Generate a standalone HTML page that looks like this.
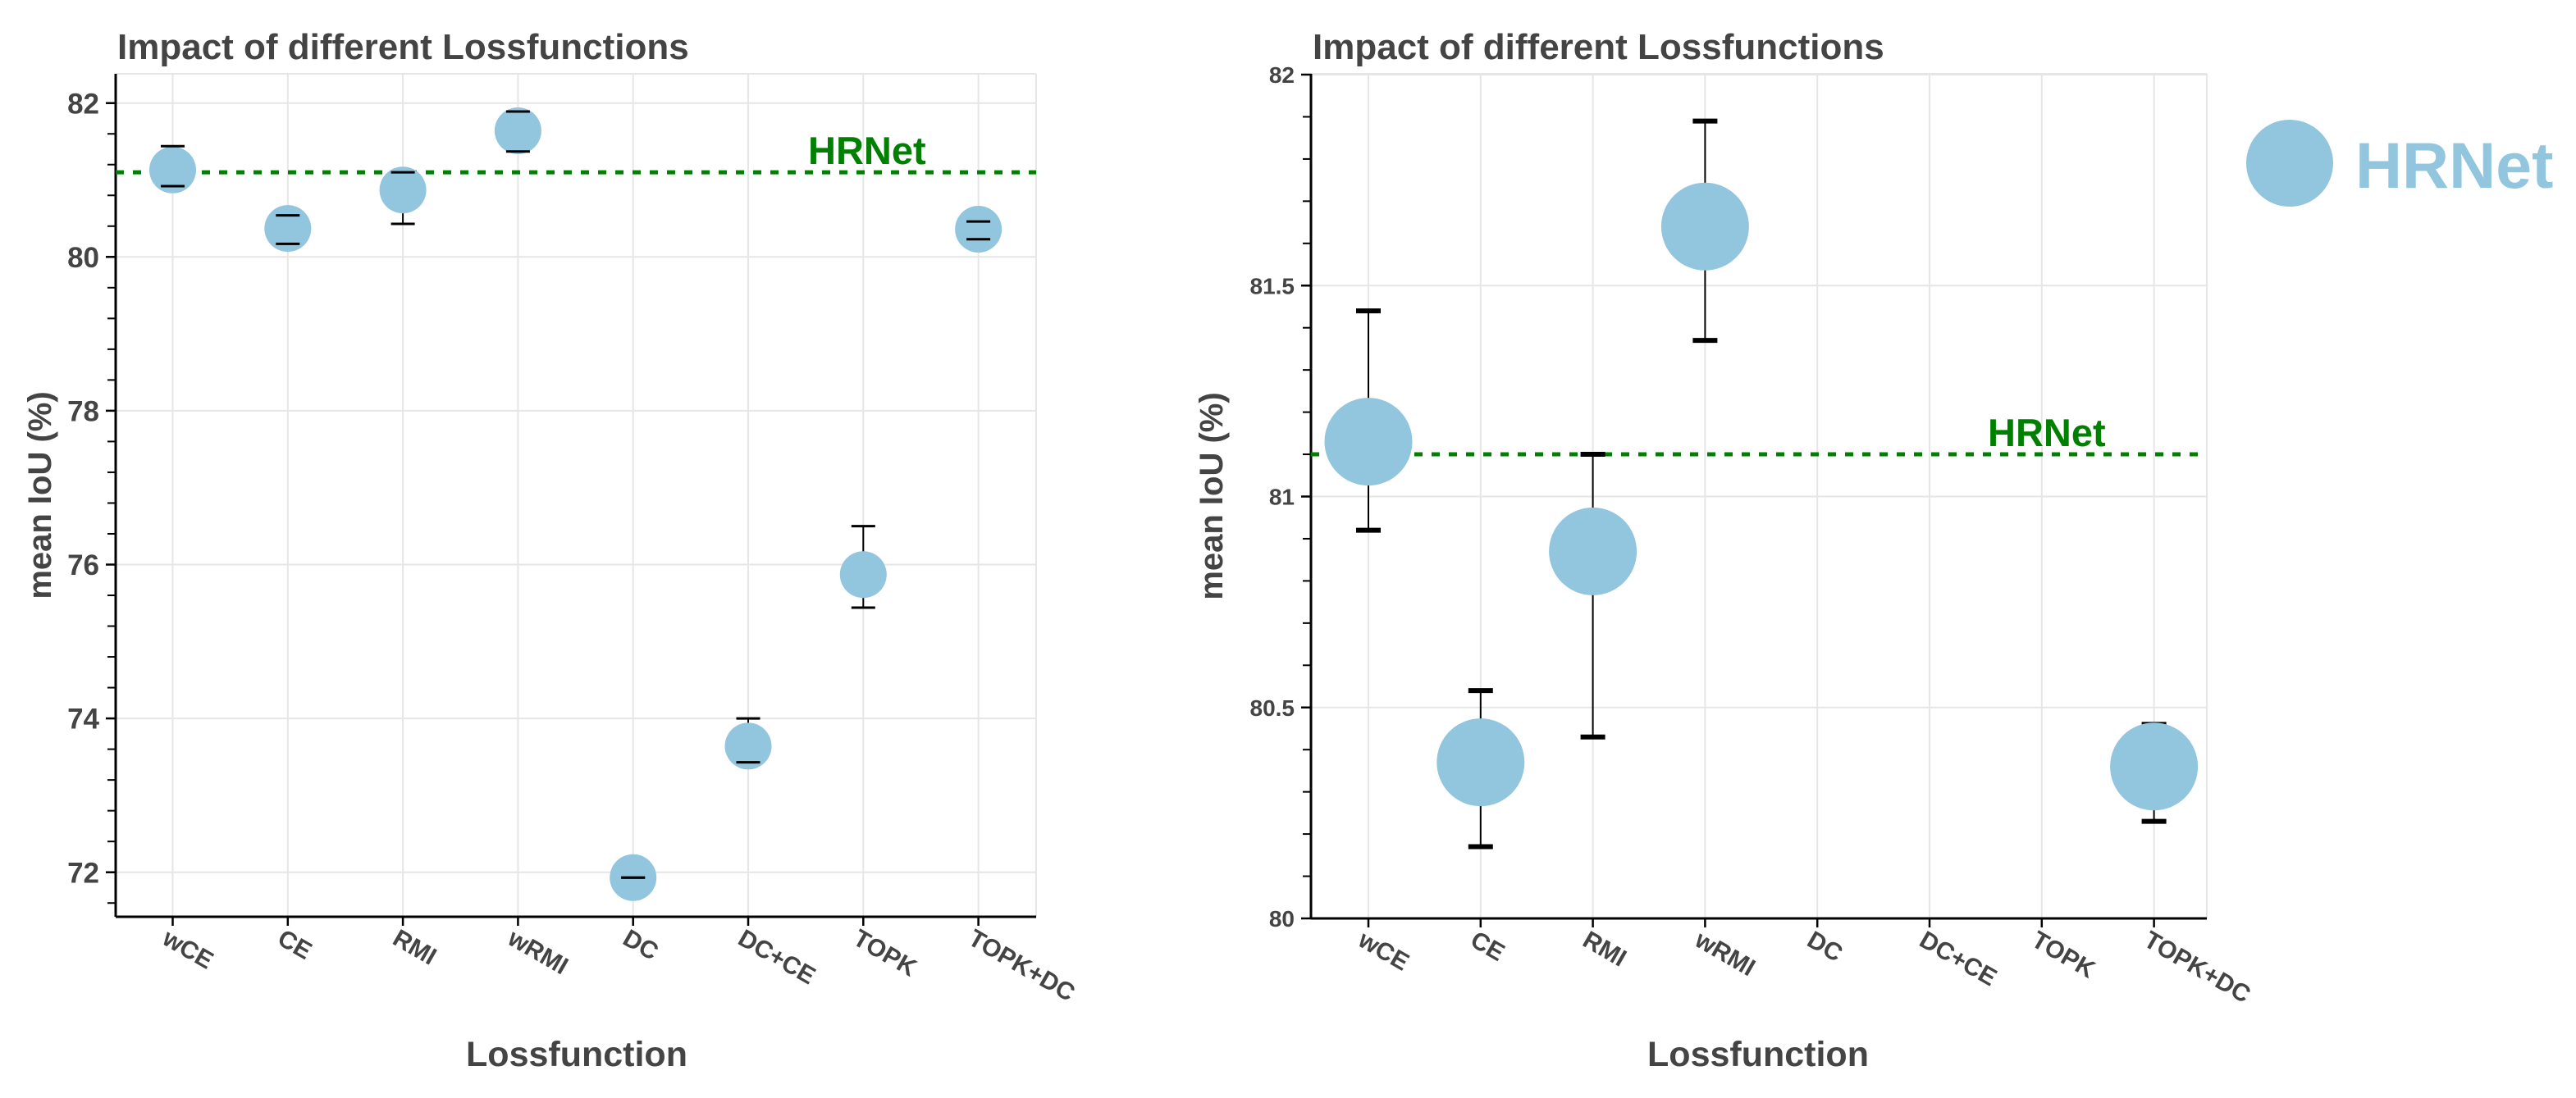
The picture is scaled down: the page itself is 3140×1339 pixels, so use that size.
<!DOCTYPE html>
<html><head><meta charset="utf-8"><style>
html,body{margin:0;padding:0;background:#fff;}
svg text{font-family:"Liberation Sans",sans-serif;font-weight:bold;}
</style></head><body>
<svg id="s" width="3140" height="1334" viewBox="0 0 3140 1334" xmlns="http://www.w3.org/2000/svg"></svg>
<script>
const categories=["wCE","CE","RMI","wRMI","DC","DC+CE","TOPK","TOPK+DC"];
const meanLeft=[81.13,80.37,80.87,81.64,71.93,73.64,75.87,80.36];
const lowLeft=[80.92,80.17,80.43,81.37,71.93,73.43,75.44,80.23];
const highLeft=[81.44,80.54,81.10,81.89,71.93,74.00,76.50,80.46];
const meanRight=[81.13,80.37,80.87,81.64,null,null,null,80.36];
const lowRight=[80.92,80.17,80.43,81.37,null,null,null,80.23];
const highRight=[81.44,80.54,81.10,81.89,null,null,null,80.46];
const baseline=81.1;
const leftTicks=[72,74,76,78,80,82];
const rightTicks=["80","80.5","81","81.5","82"];
const NS="http://www.w3.org/2000/svg";
const svg=document.getElementById('s');
function el(tag,attrs,parent,txt){const e=document.createElementNS(NS,tag);for(const k in attrs)e.setAttribute(k,attrs[k]);if(txt!==undefined)e.textContent=txt;(parent||svg).appendChild(e);return e;}

function chart(o){
  const g=el('g',{});
  
  
  const x=i=>o.x0+i*o.dx;
  const y=v=>o.yRef-(v-o.vRef)*o.py;
  categories.forEach((c,i)=>{const l=el('line',{x1:x(i),x2:x(i),y1:o.top,y2:o.bottom,stroke:'#e6e6e6','stroke-width':2},g);
    });
  o.ticks.forEach(t=>{const v=parseFloat(t);const l=el('line',{x1:o.left,x2:o.right,y1:y(v),y2:y(v),stroke:'#e6e6e6','stroke-width':2},g);
    });
  const tl=el('line',{x1:o.left,x2:o.right,y1:o.top,y2:o.top,stroke:'#e6e6e6','stroke-width':2},g);
  
  const rl=el('line',{x1:o.right,x2:o.right,y1:o.top,y2:o.bottom,stroke:'#e6e6e6','stroke-width':2},g);
  
  for(let v=o.ticksMin;v<=o.ticksMax+1e-6;v+=o.minor){const yy=y(v);if(yy<o.top-1||yy>o.bottom+1)continue;
    const m=el('line',{x1:o.left-10,x2:o.left,y1:yy,y2:yy,stroke:'#000','stroke-width':2},g);
    }
  o.ticks.forEach(t=>{const v=parseFloat(t);
    const m=el('line',{x1:o.left-12,x2:o.left,y1:y(v),y2:y(v),stroke:'#000','stroke-width':2.5},g);
    
    const tx=el('text',{x:o.left-20,y:y(v)+o.tf*0.36,'text-anchor':'end','font-size':o.tf,fill:'#444'},g,String(t));
    });
  const ya=el('line',{x1:o.left,x2:o.left,y1:o.top,y2:o.bottom,stroke:'#000','stroke-width':3},g);
  
  const xa=el('line',{x1:o.left,x2:o.right,y1:o.bottom,y2:o.bottom,stroke:'#000','stroke-width':3},g);
  
  categories.forEach((c,i)=>{
    const m=el('line',{x1:x(i),x2:x(i),y1:o.bottom,y2:o.bottom+11,stroke:'#000','stroke-width':2.5},g);
    
    const t=el('text',{transform:`translate(${x(i)-4},${o.bottom+14}) rotate(30)`,'font-size':30,fill:'#444','dominant-baseline':'hanging'},g,c);
    });
  const bl=el('line',{x1:o.left,x2:o.right,y1:y(baseline),y2:y(baseline),stroke:'#008000','stroke-width':5,'stroke-dasharray':'10 11'},g);
  
  const bt=el('text',{x:o.blx,y:y(baseline)-10,'font-size':47,fill:'#008000'},g,'HRNet');
  
  function lines(){o.mean.forEach((m,i)=>{if(m===null)return;
    const v=el('line',{x1:x(i),x2:x(i),y1:y(o.low[i]),y2:y(o.high[i]),stroke:'#000','stroke-width':2},g);
    });}
  function caps(){o.mean.forEach((m,i)=>{if(m===null)return;
    [o.low[i],o.high[i]].forEach(e=>{const c=el('line',{x1:x(i)-o.capw,x2:x(i)+o.capw,y1:y(e),y2:y(e),stroke:'#000','stroke-width':o.capt},g);
      });});}
  function dots(){o.mean.forEach((m,i)=>{if(m===null)return;
    const c=el('circle',{cx:x(i),cy:y(m),r:o.r,fill:'#92c5de'},g);
    });}
  if(o.capsOnTop){lines();dots();caps();}else{lines();caps();dots();}
  const ti=el('text',{x:o.left+2,y:72,'font-size':44,fill:'#444'},g,'Impact of different Lossfunctions');
  
  const yt=el('text',{transform:`translate(${o.ylx},${(o.top+o.bottom)/2}) rotate(-90)`,'text-anchor':'middle','font-size':40,fill:'#444'},g,'mean IoU (%)');
  
  const xt=el('text',{x:o.xlx,y:1300,'text-anchor':'middle','font-size':43,fill:'#444'},g,'Lossfunction');
  
}
chart({name:'left-chart',left:141,right:1263,top:90,bottom:1118,x0:210.5,dx:140.3,yRef:1063.7,vRef:72,py:93.8,
  ticks:leftTicks,ticksMin:70.4,ticksMax:82.4,minor:0.4,tf:35,mean:meanLeft,low:lowLeft,high:highLeft,
  r:28.5,capw:14.5,capt:3,capsOnTop:true,blx:985,ylx:62,xlx:703});
chart({name:'right-chart',left:1598,right:2690,top:90,bottom:1120,x0:1668,dx:136.8,yRef:1120,vRef:80,py:514.5,
  ticks:rightTicks,ticksMin:80,ticksMax:82,minor:0.1,tf:28,mean:meanRight,low:lowRight,high:highRight,
  r:53.5,capw:15,capt:6,capsOnTop:false,blx:2423,ylx:1490,xlx:2143});
const lg=el('g',{});


const lc=el('circle',{cx:2791,cy:199,r:53,fill:'#92c5de'},lg);


const lt=el('text',{x:2871,y:229,'font-size':79,fill:'#92c5de'},lg,'HRNet');


</script>
</body></html>
